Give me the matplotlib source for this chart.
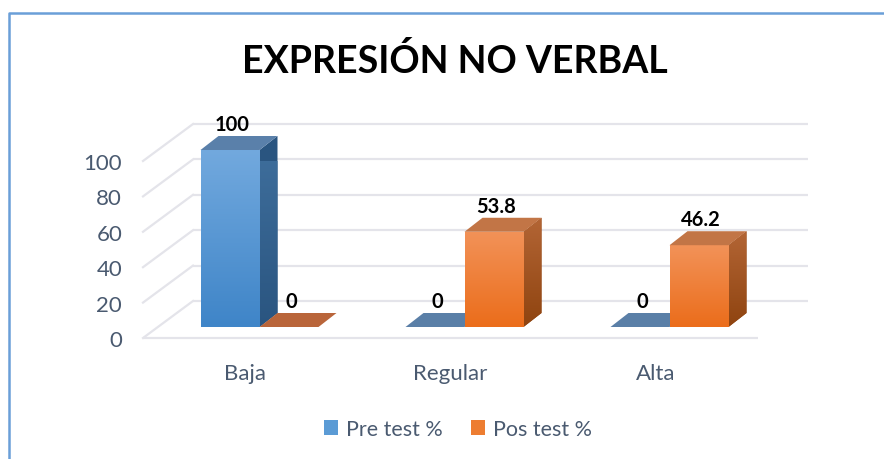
import matplotlib
matplotlib.use("Agg")
import matplotlib.pyplot as plt
import numpy as np
from matplotlib.patches import Polygon, Patch
from matplotlib.lines import Line2D
from matplotlib.colors import LinearSegmentedColormap

# ---------------- data ----------------
categories = ["Baja", "Regular", "Alta"]
pre_test = [100, 0, 0]
pos_test = [0, 53.8, 46.2]
series_names = ["Pre test %", "Pos test %"]
y_ticks = [0, 20, 40, 60, 80, 100]
title = "EXPRESIÓN NO VERBAL"

# ---------------- style ----------------
plt.rcParams['font.family'] = ['Lato', 'DejaVu Sans']
TEXT_COL = '#4a5a70'
GRID_COL = '#e4e4ea'
front_top = ['#72a9de', '#f29258']
front_bot = ['#3f85c8', '#eb6d1b']
side_top = ['#40709e', '#b36535']
side_bot = ['#2a5580', '#8f4410']
top_col = ['#5a80aa', '#c27546']
flat_col = ['#5a7fa7', '#b9653a']
legend_col = ['#5b9bd5', '#ed7d31']

W, H = 884, 460
fig = plt.figure(figsize=(W / 100, H / 100), dpi=100)

# axes = front plane of the floor
ax_l, ax_r = 143, 758
ax_b, ax_t = 339, 162
ax = fig.add_axes([ax_l / W, (H - ax_b) / H, (ax_r - ax_l) / W, (ax_b - ax_t) / H])
n = len(categories)
ax.set_xlim(-0.5, n - 0.5)
ax.set_ylim(0, 100)
for s in ax.spines.values():
    s.set_visible(False)
ax.set_yticks(y_ticks)
ax.set_yticklabels([str(t) for t in y_ticks])
ax.set_xticks(range(n))
ax.set_xticklabels(categories)
ax.tick_params(axis='y', length=0, pad=15, labelsize=16, labelcolor=TEXT_COL)
ax.tick_params(axis='x', length=0, pad=18, labelsize=16, labelcolor=TEXT_COL)
ax.patch.set_visible(False)

sx = (ax_r - ax_l) / n          # px per x unit
sy = (ax_b - ax_t) / 100.0      # px per y unit

def px2d(dx, dy):
    return dx / sx, dy / sy

bdx, bdy = px2d(50, 37)    # back wall offset
pdx, pdy = px2d(14, 11)    # bar plane offset
ddx, ddy = px2d(18, 14)    # bar depth
w = 59 / sx                # bar width

x0, x1 = ax.get_xlim()
# back wall grid + left wall diagonals
for t in y_ticks:
    ax.plot([x0 + bdx, x1 + bdx], [t + bdy, t + bdy], color=GRID_COL, lw=1.6,
            clip_on=False, zorder=1, solid_capstyle='butt')
    ax.plot([x0, x0 + bdx], [t, t + bdy], color=GRID_COL, lw=1.6,
            clip_on=False, zorder=1)
ax.plot([x0, x1], [0, 0], color=GRID_COL, lw=1.6, clip_on=False, zorder=1,
        solid_capstyle='butt')

def vgrad(ax, xa, xb, ya, yb, ctop, cbot, clip, z):
    cmap = LinearSegmentedColormap.from_list('g', [cbot, ctop])
    grad = np.linspace(0, 1, 64).reshape(-1, 1)
    im = ax.imshow(grad, cmap=cmap, extent=[xa, xb, ya, yb], origin='lower',
                   aspect='auto', zorder=z, interpolation='bilinear')
    im.set_clip_path(clip)

series = [pre_test, pos_test]
z = 3
for i in range(n):
    for s, vals in enumerate(series):
        h = vals[i]
        xl = i - w + s * w + pdx
        xr = xl + w
        yb = pdy
        yt = h + pdy
        if h > 0:
            side = Polygon([(xr, yb), (xr, yt), (xr + ddx, yt + ddy), (xr + ddx, yb + ddy)],
                           closed=True, facecolor=side_bot[s], edgecolor='none',
                           zorder=z, clip_on=False)
            ax.add_patch(side)
            vgrad(ax, xr, xr + ddx, yb, yt + ddy, side_top[s], side_bot[s], side, z + 0.1)
            bars = ax.bar([xl], [h], width=w, bottom=yb, align='edge',
                          color=front_bot[s], edgecolor='none', zorder=z + 0.2,
                          clip_on=False)
            rect = bars.patches[0]
            vgrad(ax, xl, xr, yb, yt, front_top[s], front_bot[s], rect, z + 0.3)
            tc = top_col[s]
        else:
            tc = flat_col[s]
        top = Polygon([(xl, yt), (xr, yt), (xr + ddx, yt + ddy), (xl + ddx, yt + ddy)],
                      closed=True, facecolor=tc, edgecolor='none', zorder=z + 0.4,
                      clip_on=False)
        ax.add_patch(top)
        lab = f"{h:g}"
        ax.annotate(lab, xy=((xl + xr) / 2, yt + ddy), xytext=(2, 12),
                    textcoords='offset pixels', ha='center', va='center',
                    fontsize=14.5, fontweight='bold', color='black', zorder=20,
                    annotation_clip=False)
        z += 1

# title
fig.text(455 / W, 1 - 61 / H, title, ha='center', va='center', fontsize=27,
         fontweight='bold', color='black')

# legend
handles = [Patch(facecolor=legend_col[k], edgecolor='none', label=series_names[k])
           for k in range(2)]
leg = fig.legend(handles=handles, loc='center', bbox_to_anchor=(458 / W, 1 - 430 / H),
                 ncol=2, frameon=False, fontsize=15.5, handlelength=0.65,
                 handleheight=0.65, handletextpad=0.4, columnspacing=1.3,
                 labelcolor=TEXT_COL)

# outer border (top and left)
fig.add_artist(Line2D([9 / W, 9 / W, 1.0], [0.0, 1 - 14 / H, 1 - 14 / H],
                      transform=fig.transFigure, color='#6a9fd8', lw=1.8))

fig.savefig('out.png', dpi=100)
